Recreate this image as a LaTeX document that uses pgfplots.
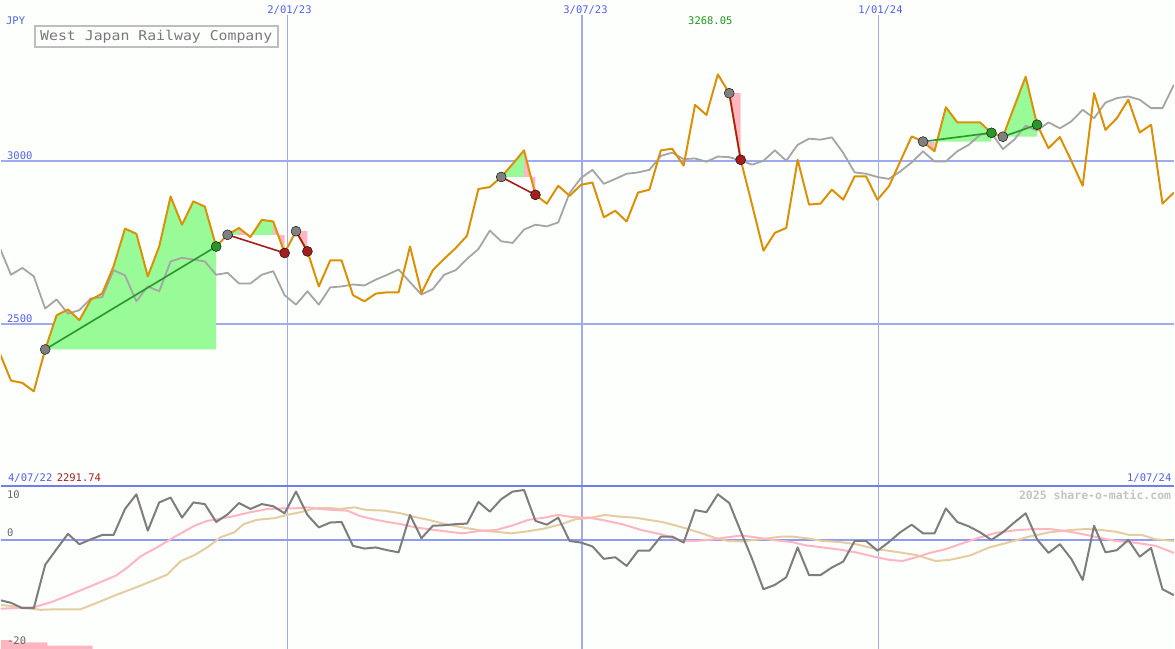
\documentclass[border=0pt]{standalone}
\usepackage{pgfplots}
\pgfplotsset{compat=1.18}
\usepackage{pgfplotstable}
\usepackage{fontspec}
\setmonofont{DejaVu Sans Mono}
\newfontfamily\titlefont[FakeStretch=1.1]{DejaVu Sans Mono}
\definecolor{bg}{RGB}{253,255,253}
\definecolor{gridblue}{RGB}{160,170,240}
\definecolor{zeroblue}{RGB}{145,155,240}
\definecolor{sepblue}{RGB}{115,125,232}
\definecolor{txtblue}{RGB}{85,95,230}
\definecolor{priceor}{RGB}{218,145,5}
\definecolor{avggray}{RGB}{165,165,165}
\definecolor{fillgreen}{RGB}{152,251,152}
\definecolor{fillpink}{RGB}{255,182,193}
\definecolor{mkgray}{RGB}{128,128,128}
\definecolor{mkgreen}{RGB}{40,150,40}
\definecolor{mkred}{RGB}{165,30,30}
\definecolor{oscdark}{RGB}{125,125,125}
\definecolor{osctan}{RGB}{228,205,160}
\definecolor{txtgray}{RGB}{100,100,100}
\definecolor{wmgray}{RGB}{195,195,195}
\definecolor{titlegray}{RGB}{120,120,120}
\definecolor{boxgray}{RGB}{190,190,190}
\definecolor{maxgreen}{RGB}{30,150,30}

\pgfplotstableread{
k v
-1 2411
0 2325
1 2318
2 2292
3 2421
4 2526
5 2544
6 2511
7 2574
8 2593
9 2677
10 2793
11 2777
12 2646
13 2738
14 2892
15 2805
16 2877
17 2861
18 2738
19 2774
20 2795
21 2767
22 2820
23 2815
24 2718
25 2785
26 2723
27 2615
28 2695
29 2695
30 2588
31 2569
32 2593
33 2597
34 2597
35 2738
36 2595
37 2665
38 2700
39 2733
40 2771
41 2915
42 2921
43 2952
44 2992
45 3034
46 2897
47 2870
48 2925
49 2894
50 2928
51 2935
52 2828
53 2848
54 2815
55 2904
56 2913
57 3034
58 3039
59 2987
60 3174
61 3143
62 3268
63 3210
64 3005
65 2867
66 2725
67 2780
68 2795
69 3005
70 2867
71 2870
72 2913
73 2882
74 2954
75 2954
76 2882
77 2923
78 3000
79 3077
80 3061
81 3031
82 3167
83 3120
84 3120
85 3120
86 3088
87 3076
88 3169
89 3261
90 3113
91 3041
92 3075
93 3002
94 2925
95 3210
96 3097
97 3133
98 3190
99 3089
100 3113
101 2870
102 2904
}\price

\pgfplotstableread{
k v
-1 2735
0 2651
1 2672
2 2646
3 2547
4 2575
5 2531
6 2542
7 2578
8 2582
9 2665
10 2649
11 2569
12 2615
13 2600
14 2692
15 2703
16 2698
17 2692
18 2651
19 2657
20 2624
21 2624
22 2651
23 2662
24 2588
25 2559
26 2600
27 2559
28 2612
29 2615
30 2621
31 2618
32 2636
33 2651
34 2667
35 2628
36 2590
37 2607
38 2651
39 2665
40 2700
41 2730
42 2787
43 2754
44 2749
45 2790
46 2805
47 2800
48 2812
49 2903
50 2949
51 2974
52 2931
53 2946
54 2962
55 2966
56 2974
57 3017
58 3027
59 3007
60 3009
61 2999
62 3015
63 3013
64 3003
65 2990
66 3002
67 3034
68 3002
69 3051
70 3070
71 3067
72 3074
73 3026
74 2966
75 2962
76 2952
77 2946
78 2969
79 2997
80 3031
81 3000
82 3000
83 3031
84 3051
85 3082
86 3087
87 3038
88 3067
89 3110
90 3095
91 3120
92 3102
93 3123
94 3159
95 3133
96 3181
97 3195
98 3200
99 3190
100 3164
101 3164
102 3236
}\avg

\pgfplotstableread{
k v
-1 -11.0
0 -11.5
1 -12.5
2 -12.5
3 -4.5
4 -1.6
5 1.2
6 -0.7
7 0.2
8 1.0
9 1.0
10 5.8
11 8.5
12 1.8
13 7.0
14 7.9
15 4.2
16 7.0
17 6.7
18 3.4
19 4.8
20 6.9
21 5.8
22 6.7
23 6.3
24 5.0
25 9.0
26 4.7
27 2.4
28 3.3
29 3.4
30 -1.0
31 -1.5
32 -1.3
33 -1.8
34 -2.2
35 4.7
36 0.4
37 2.7
38 2.8
39 3.0
40 3.1
41 7.1
42 5.3
43 7.6
44 9.0
45 9.3
46 3.6
47 2.9
48 4.2
49 -0.1
50 -0.4
51 -1.1
52 -3.4
53 -3.1
54 -4.7
55 -1.9
56 -1.9
57 0.7
58 0.7
59 -0.4
60 5.6
61 5.2
62 8.5
63 6.9
64 1.7
65 -3.4
66 -9.0
67 -8.2
68 -6.8
69 -1.3
70 -6.4
71 -6.4
72 -5.0
73 -3.9
74 -0.1
75 -0.1
76 -1.9
77 -0.3
78 1.5
79 2.9
80 1.3
81 1.3
82 5.9
83 3.4
84 2.6
85 1.5
86 0.1
87 1.5
88 3.3
89 5.0
90 0.2
91 -2.3
92 -0.7
93 -3.4
94 -7.3
95 2.7
96 -2.2
97 -1.8
98 0.1
99 -3.0
100 -1.4
101 -9.0
102 -10.1
}\osc

\pgfplotstableread{
k v
-0.88 -12.6
2.04 -12.3
3.5 -11.4
4.96 -10.2
6.7 -8.7
9.2 -6.5
10.2 -5.0
11.4 -2.9
12.8 -1.3
14.3 0.6
16.1 2.7
17.2 3.6
18.1 3.9
19.6 4.5
21 5.2
22.5 5.8
23.9 5.9
24.8 5.9
26 6.1
27.1 5.8
28.3 5.6
29.5 5.5
30.6 4.5
31.8 3.9
33 3.4
34.2 3.0
35.5 2.4
37.2 1.9
39.6 1.3
41.3 1.8
42.5 1.9
43.9 2.7
45.4 3.8
46.8 4.2
48 4.7
49.2 4.3
50.6 4.2
51.8 3.8
53.6 3.0
55.3 1.9
57.1 1.1
58.8 -0.1
60 -0.1
61.7 0.2
62.9 0.6
64.1 0.9
65.2 0.6
66.7 0.1
68.5 -0.3
69.7 -0.9
71.2 -1.3
72.7 -1.7
74.1 -2.2
75.9 -3.1
77.1 -3.6
78.2 -3.8
79.4 -3.1
80.6 -2.3
82 -1.6
83.5 -0.5
84.9 0.5
86.4 1.4
88.2 1.9
89.9 2.1
91.1 2.1
92.2 1.8
93.4 1.4
94.6 0.9
95.7 0.4
96.9 -0.1
98.1 -0.3
99.2 -0.6
100.4 -1.0
102 -2.3
}\oscpink

\pgfplotstableread{
k v
-0.88 -11.9
0.9 -12.3
2.6 -12.8
3.8 -12.7
6.1 -12.7
7.9 -11.2
9.3 -10.0
11.4 -8.3
12.8 -7.1
13.7 -6.3
14.9 -3.8
16.1 -2.7
17.2 -1.3
18.4 0.6
19.6 1.5
20.4 3.0
21.6 3.8
23.1 4.1
24.2 4.7
25.4 5.2
26.6 5.9
27.7 6.0
28.9 5.8
30.1 6.1
31.2 5.6
32.7 5.5
34.2 5.0
35.2 4.4
36.6 3.8
38.1 3.0
39.6 2.4
41.3 1.8
42.5 1.6
43.9 1.3
45.4 1.7
46.8 2.2
48.3 3.0
49.5 3.9
50.9 4.2
52.1 4.7
53.3 4.4
54.7 4.2
55.9 3.8
57.1 3.4
58.2 2.8
59.4 2.1
60.6 1.3
61.7 0.5
62.9 -0.1
64.1 -0.2
65.2 0.1
66.4 0.4
67.6 0.7
68.5 0.7
69.8 0.4
71.2 -0.1
72.7 -0.3
74.1 -0.7
75.9 -1.6
77.6 -2.1
79.4 -2.7
81.1 -3.8
82.3 -3.6
84.1 -2.8
85.8 -1.3
87.6 -0.3
89.3 0.7
91.1 1.5
92.8 1.9
94.3 2.1
95.7 1.9
96.9 1.6
98.1 1.0
99.2 1.0
100.4 0.2
102 -0.1
}\osctan

\pgfplotsset{chartax/.style={scale only axis, width=1175pt, xmin=-0.876, xmax=102.01,
  axis lines=none, ticks=none, clip=true, anchor=south west}}
\newcommand\lab{\fontsize{10.5}{12}\selectfont\ttfamily}

\begin{document}
\begin{tikzpicture}
\fill[bg] (0pt,0pt) rectangle (1175pt,650pt);

% ---------- price panel ----------
\begin{axis}[chartax, at={(0pt,163pt)}, height=487pt, ymin=2000, ymax=3497]
\addplot[gridblue, line width=1pt] coordinates {(24.26,2000) (24.26,3451)};
\addplot[gridblue, line width=2pt] coordinates {(50.09,2000) (50.09,3451)};
\addplot[gridblue, line width=1pt] coordinates {(76.1,2000) (76.1,3451)};
\addplot[gridblue, line width=2pt] coordinates {(-0.876,3000) (102.01,3000)};
\addplot[gridblue, line width=2pt] coordinates {(-0.876,2500) (102.01,2500)};
% trade areas
\addplot[fill=fillgreen, draw=none] coordinates {(3,2421) (4,2526) (5,2544) (6,2511) (7,2574) (8,2593) (9,2677) (10,2793) (11,2777) (12,2646) (13,2738) (14,2892) (15,2805) (16,2877) (17,2861) (18,2738) (18,2421)};
\addplot[fill=fillgreen, draw=none] coordinates {(19,2774) (20,2795) (20,2774)};
\addplot[fill=fillpink, draw=none] coordinates {(20,2774) (20,2795) (21,2767) (21,2774)};
\addplot[fill=fillgreen, draw=none] coordinates {(21,2774) (21,2767) (22,2820) (23,2815) (23,2774)};
\addplot[fill=fillpink, draw=none] coordinates {(23,2774) (23,2815) (24,2718) (24,2774)};
\addplot[fill=fillpink, draw=none] coordinates {(25,2785) (26,2723) (26,2785)};
\addplot[fill=fillgreen, draw=none] coordinates {(43,2952) (44,2992) (45,3034) (45,2952)};
\addplot[fill=fillpink, draw=none] coordinates {(45,2952) (45,3034) (46,2897) (46,2952)};
\addplot[fill=fillpink, draw=none] coordinates {(63,3210) (64,3005) (64,3210)};
\addplot[fill=fillpink, draw=none] coordinates {(80,3061) (81,3031) (81,3061)};
\addplot[fill=fillgreen, draw=none] coordinates {(81,3061) (81,3031) (82,3167) (83,3120) (84,3120) (85,3120) (86,3088) (86,3061)};
\addplot[fill=fillgreen, draw=none] coordinates {(87,3076) (88,3169) (89,3261) (90,3113) (90,3076)};
% lines
\addplot[avggray, line width=1.8pt, line join=round] table[x=k, y=v] {\avg};
\addplot[priceor, line width=2pt, line join=round] table[x=k, y=v] {\price};
% trade lines
\addplot[mkgreen, line width=1.6pt] coordinates {(3,2421) (18,2738)};
\addplot[mkred, line width=1.6pt] coordinates {(19,2774) (24,2718)};
\addplot[mkred, line width=1.6pt] coordinates {(25,2785) (26,2723)};
\addplot[mkred, line width=1.6pt] coordinates {(43,2952) (46,2897)};
\addplot[mkred, line width=1.6pt] coordinates {(63,3210) (64,3005)};
\addplot[mkgreen, line width=1.6pt] coordinates {(80,3061) (86,3088)};
\addplot[mkgreen, line width=1.6pt] coordinates {(87,3076) (90,3113)};
% markers
\addplot[only marks, mark=*, mark size=5pt, mark options={fill=mkgray, draw=none}] coordinates {(3,2421) (19,2774) (25,2785) (43,2952) (63,3210) (80,3061) (87,3076)};
\addplot[only marks, mark=*, mark size=5pt, mark options={fill=mkgreen, draw=none}] coordinates {(18,2738) (86,3088) (90,3113)};
\addplot[only marks, mark=*, mark size=5pt, mark options={fill=mkred, draw=none}] coordinates {(24,2718) (26,2723) (46,2897) (64,3005)};
\end{axis}

% ---------- oscillator panel ----------
\begin{axis}[chartax, at={(0pt,0pt)}, height=163pt, ymin=-20, ymax=10]
\addplot[gridblue, line width=1pt] coordinates {(24.26,-20) (24.26,10)};
\addplot[gridblue, line width=2pt] coordinates {(50.09,-20) (50.09,10)};
\addplot[gridblue, line width=1pt] coordinates {(76.1,-20) (76.1,10)};
\addplot[zeroblue, line width=2pt] coordinates {(-0.876,0) (102.01,0)};
\addplot[fill=fillpink, draw=none] coordinates {(-0.876,-20) (-0.876,-18.4) (0.15,-18.4) (0.15,-18.8) (3.2,-18.8) (3.2,-19.4) (7.15,-19.4) (7.15,-20)};
\addplot[osctan, line width=2pt, line join=round] table[x=k, y=v] {\osctan};
\addplot[fillpink, line width=2pt, line join=round] table[x=k, y=v] {\oscpink};
\addplot[oscdark, line width=2pt, line join=round] table[x=k, y=v] {\osc};
\end{axis}

\draw[sepblue, line width=2pt] (0pt,163pt) -- (1175pt,163pt);

% ---------- texts ----------
\node[anchor=base west, inner sep=0pt, text=txtblue, font=\lab] at (5pt,625pt) {JPY};
\draw[boxgray, line width=2pt, fill=bg] (34pt,603pt) rectangle (277pt,624pt);
\node[anchor=base, inner sep=0pt, text=titlegray, font=\fontsize{13.5}{15}\selectfont\titlefont] at (155.5pt,609.3pt) {West Japan Railway Company};
\node[anchor=base, inner sep=0pt, text=txtblue, font=\lab] at (289pt,636.7pt) {2/01/23};
\node[anchor=base, inner sep=0pt, text=txtblue, font=\lab] at (585.5pt,636.7pt) {3/07/23};
\node[anchor=base, inner sep=0pt, text=txtblue, font=\lab] at (881pt,636.7pt) {1/01/24};
\node[anchor=base, inner sep=0pt, text=maxgreen, font=\lab] at (710.5pt,625pt) {3268.05};
\node[anchor=base west, inner sep=0pt, text=txtblue, font=\lab] at (6pt,490.7pt) {3000};
\node[anchor=base west, inner sep=0pt, text=txtblue, font=\lab] at (6pt,327.3pt) {2500};
\node[anchor=base west, inner sep=0pt, text=txtblue, font=\lab] at (7pt,167.3pt) {4/07/22};
\node[anchor=base west, inner sep=0pt, text=mkred, font=\lab] at (55.7pt,167.3pt) {2291.74};
\node[anchor=base east, inner sep=0pt, text=txtblue, font=\lab] at (1172.5pt,167.3pt) {1/07/24};
\node[anchor=base east, inner sep=0pt, text=wmgray, font=\fontsize{11.5}{13}\selectfont\ttfamily\bfseries] at (1172.3pt,149.3pt) {2025 share-o-matic.com};
\node[anchor=base west, inner sep=0pt, text=txtgray, font=\lab] at (6pt,150.7pt) {10};
\node[anchor=base west, inner sep=0pt, text=txtgray, font=\lab] at (6pt,112.3pt) {0};
\node[anchor=base west, inner sep=0pt, text=txtgray, font=\lab] at (6pt,4.3pt) {-20};
\end{tikzpicture}
\end{document}
